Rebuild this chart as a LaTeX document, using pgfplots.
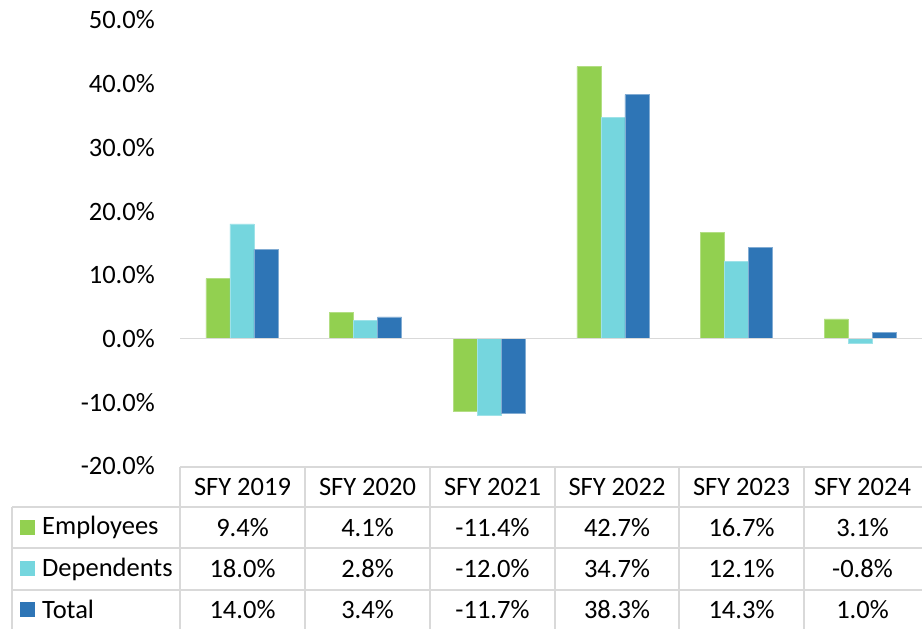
\documentclass[border=0pt]{standalone}
\usepackage{pgfplots}
\pgfplotsset{compat=1.18}
\usepackage{fontspec}
\setmainfont{Carlito}
\definecolor{cgreen}{HTML}{92D050}
\definecolor{ccyan}{HTML}{75D6DE}
\definecolor{cblue}{HTML}{2E75B6}
\definecolor{cgrid}{HTML}{D9D9D9}
\newcommand{\tf}{\fontsize{26.5}{31}\selectfont}
\begin{document}
\tf
\begin{tikzpicture}[x=1pt,y=1pt]
\useasboundingbox (0pt,0pt) rectangle (922pt,-629pt);
\begin{axis}[
  at={(180pt,-466pt)}, anchor=south west,
  width=742pt, height=446pt, scale only axis,
  xmin=0.5, xmax=6.5, ymin=-20, ymax=50,
  axis line style={draw=none}, tick style={draw=none},
  xtick=\empty,
  ytick={-20,-10,0,10,20,30,40,50},
  yticklabels={-20.0\%,-10.0\%,0.0\%,10.0\%,20.0\%,30.0\%,40.0\%,50.0\%},
  yticklabel style={anchor=east, inner sep=0pt, xshift=-25pt, font=\tf},
  clip=false,
]
\addplot[ybar, bar width=24pt, bar shift=-24pt, fill=cgreen, draw=cgreen!70!white, line width=0.6pt]
  coordinates {(1,9.4) (2,4.1) (3,-11.4) (4,42.7) (5,16.7) (6,3.1)};
\addplot[ybar, bar width=24pt, bar shift=0pt, fill=ccyan, draw=ccyan!70!white, line width=0.6pt]
  coordinates {(1,18.0) (2,2.8) (3,-12.0) (4,34.7) (5,12.1) (6,-0.8)};
\addplot[ybar, bar width=24pt, bar shift=24pt, fill=cblue, draw=cblue!60!white, line width=0.6pt]
  coordinates {(1,14.0) (2,3.4) (3,-11.7) (4,38.3) (5,14.3) (6,1.0)};
\draw[cgrid, line width=1.5pt] (axis cs:0.5,0) -- (axis cs:6.5,0);
\end{axis}
% table grid
\begin{scope}[cgrid, line width=1.5pt]
\draw (180pt,-467pt) -- (922pt,-467pt);
\foreach \yy in {507,548,590} \draw (12pt,-\yy pt) -- (922pt,-\yy pt);
\draw (12pt,-507pt) -- (12pt,-629pt);
\foreach \xx in {180,305,430,555,679,804} \draw (\xx pt,-467pt) -- (\xx pt,-629pt);
\end{scope}
% header
\foreach \xx/\lab in {242.5/SFY 2019,367.5/SFY 2020,492.5/SFY 2021,617/SFY 2022,741.5/SFY 2023,862.5/SFY 2024}
  \node[font=\tf, inner sep=0pt] at (\xx pt,-487pt) {\lab};
% legend keys
\fill[cgreen] (20pt,-519.5pt) rectangle (35pt,-534.5pt);
\fill[ccyan] (20pt,-561pt) rectangle (35pt,-576pt);
\fill[cblue] (20pt,-601.5pt) rectangle (35pt,-616.5pt);
\node[font=\tf, inner sep=0pt, anchor=west] at (42pt,-527.5pt) {Employees};
\node[font=\tf, inner sep=0pt, anchor=west] at (42pt,-569pt) {Dependents};
\node[font=\tf, inner sep=0pt, anchor=west] at (42pt,-609.5pt) {Total};
% values
\foreach \xx/\a/\b/\c in {242.5/9.4\%/18.0\%/14.0\%, 367.5/4.1\%/2.8\%/3.4\%, 492.5/-11.4\%/-12.0\%/-11.7\%, 617/42.7\%/34.7\%/38.3\%, 741.5/16.7\%/12.1\%/14.3\%, 862.5/3.1\%/-0.8\%/1.0\%}{
  \node[font=\tf, inner sep=0pt] at (\xx pt,-527.5pt) {\a};
  \node[font=\tf, inner sep=0pt] at (\xx pt,-569pt) {\b};
  \node[font=\tf, inner sep=0pt] at (\xx pt,-609.5pt) {\c};
}
\end{tikzpicture}
\end{document}
